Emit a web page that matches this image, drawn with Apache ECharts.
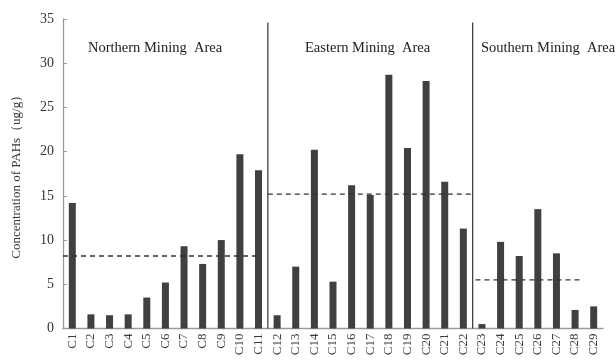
<!DOCTYPE html>
<html>
<head>
<meta charset="utf-8">
<script src="https://cdn.jsdelivr.net/npm/echarts@6/dist/echarts.min.js"></script>
<style>
  html, body { margin: 0; padding: 0; background: #fff; }
  #chart { width: 616px; height: 360px; }
</style>
</head>
<body>
<div id="chart"></div>
<script>
// Sampling sites
const sites = ['C1','C2','C3','C4','C5','C6','C7','C8','C9','C10','C11',
  'C12','C13','C14','C15','C16','C17','C18','C19','C20','C21','C22',
  'C23','C24','C25','C26','C27','C28','C29'];

// PAH concentration at each site (ug/g)
const pahValues = [14.2, 1.6, 1.5, 1.6, 3.5, 5.2, 9.3, 7.3, 10.0, 19.7, 17.9,
  1.5, 7.0, 20.2, 5.3, 16.2, 15.1, 28.7, 20.4, 28.0, 16.6, 11.3,
  0.5, 9.8, 8.2, 13.5, 8.5, 2.1, 2.5];

// Mining areas: name, mean level and the site span of its dashed mean line
const areaNames = ['Northern Mining  Area', 'Eastern Mining  Area', 'Southern Mining  Area'];
const areaMeans = [8.2, 15.2, 5.5];
const areaSpans = [[0, 10.6], [11, 21.95], [22.15, 27.9]];

// Boundaries between areas (in site units) and their top
const dividers = [11, 22];
const dividerTop = 34.6;

const yTicks = { min: 0, max: 35, interval: 5 };

const serif = '"Liberation Serif", "DejaVu Serif", serif';
const chart = echarts.init(document.getElementById('chart'));

const meanSeries = areaMeans.map((m, i) => ({
  type: 'line',
  xAxisIndex: 1,
  data: [[areaSpans[i][0], m], [areaSpans[i][1], m]],
  symbol: 'none',
  silent: true,
  lineStyle: { color: '#333', width: 1.3, type: [5, 4] },
  z: 5
}));

const dividerSeries = dividers.map(d => ({
  type: 'line',
  xAxisIndex: 1,
  data: [[d, 0], [d, dividerTop]],
  symbol: 'none',
  silent: true,
  lineStyle: { color: '#444', width: 1.3 },
  z: 4
}));

chart.setOption({
  animation: false,
  grid: { left: 63, right: 13, top: 19, bottom: 31.5 },
  xAxis: [{
    type: 'category',
    data: sites,
    boundaryGap: true,
    axisLine: { lineStyle: { color: '#9a9a9a', width: 1.3 } },
    axisTick: { inside: true, length: 4, alignWithLabel: false, lineStyle: { color: '#9a9a9a' } },
    axisLabel: { rotate: 90, fontFamily: serif, fontSize: 13, color: '#3a3a3a', margin: 5, interval: 0 }
  }, {
    type: 'value',
    min: 0, max: sites.length,
    show: false
  }],
  yAxis: {
    type: 'value',
    min: yTicks.min, max: yTicks.max, interval: yTicks.interval,
    name: 'Concentration of PAHs（ug/g）',
    nameLocation: 'middle',
    nameGap: 40,
    nameTextStyle: { fontFamily: serif, fontSize: 13, color: '#333' },
    axisLine: { show: true, lineStyle: { color: '#9a9a9a', width: 1.3 } },
    axisTick: { show: true, inside: true, length: 4, lineStyle: { color: '#9a9a9a' } },
    axisLabel: { fontFamily: serif, fontSize: 14, color: '#333', margin: 9 },
    splitLine: { show: false }
  },
  series: [{
    type: 'bar',
    data: pahValues,
    barWidth: 7,
    itemStyle: { color: '#404040' },
    z: 3
  }].concat(meanSeries, dividerSeries),
  graphic: [
    { type: 'text', left: 88, top: 41, style: { text: areaNames[0], font: '14.5px ' + serif, fill: '#222' } },
    { type: 'text', left: 305, top: 41, style: { text: areaNames[1], font: '14.5px ' + serif, fill: '#222' } },
    { type: 'text', left: 481, top: 41, style: { text: areaNames[2], font: '14.5px ' + serif, fill: '#222' } }
  ]
});
</script>
</body>
</html>
